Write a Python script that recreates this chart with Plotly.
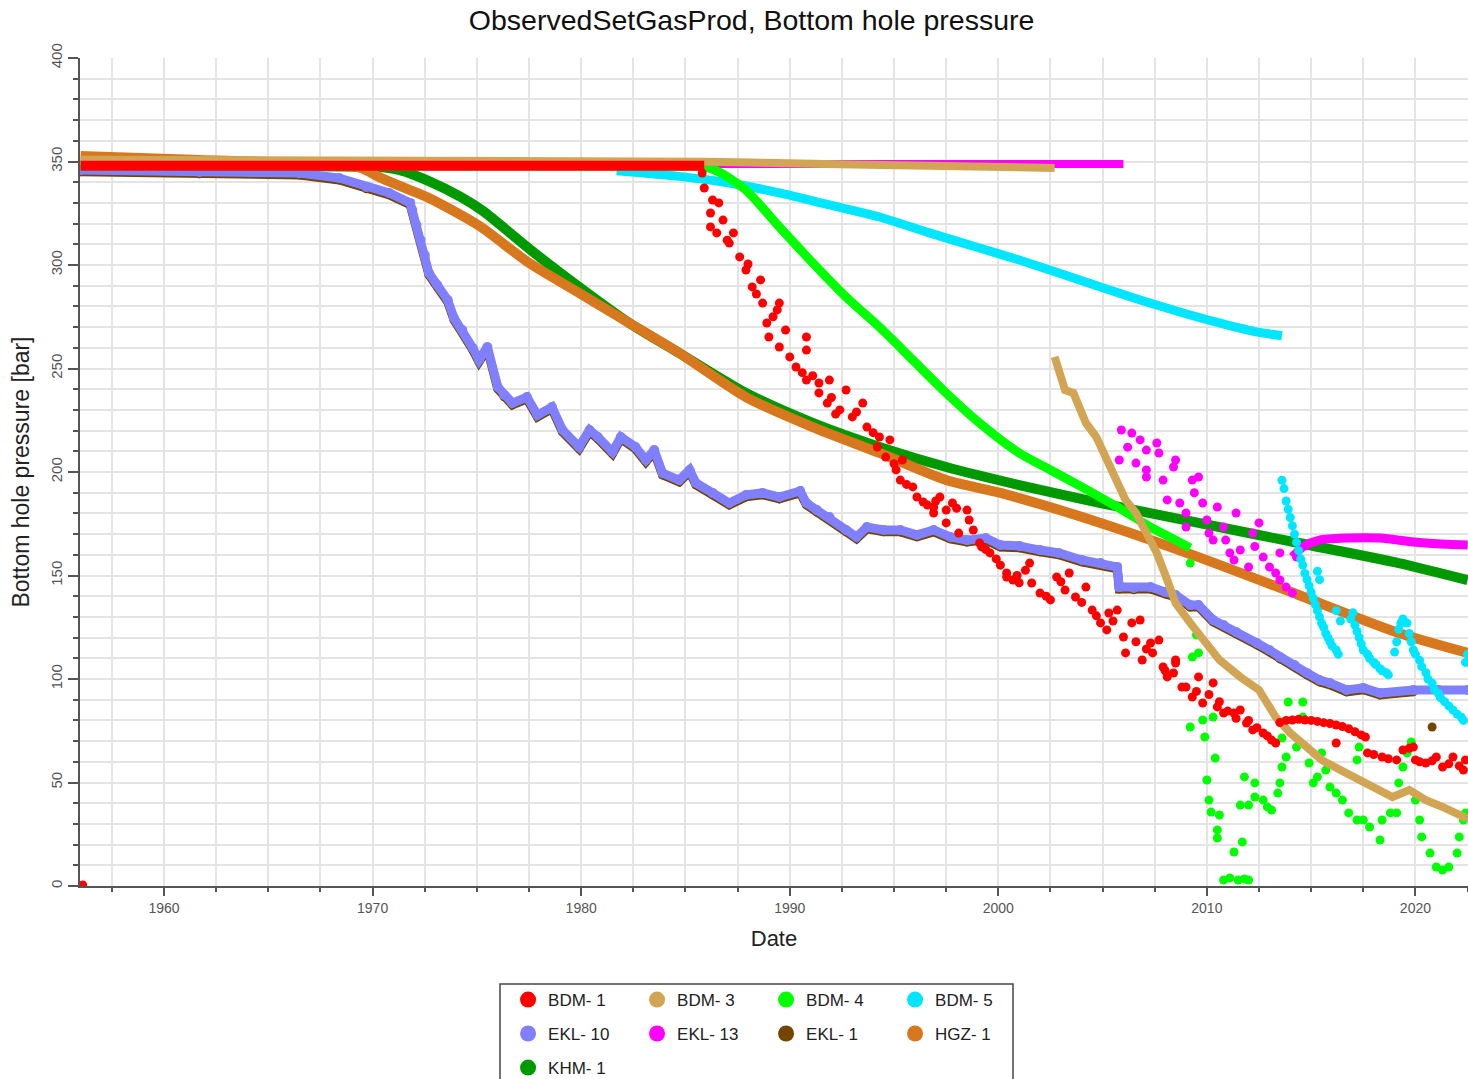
import plotly.graph_objects as go

FONT = "Liberation Sans, Arial, sans-serif"

TITLE = "ObservedSetGasProd, Bottom hole pressure"
X_TITLE = "Date"
Y_TITLE = "Bottom hole pressure [bar]"

X_TICKS = [1960, 1970, 1980, 1990, 2000, 2010, 2020]
X_TICK_TEXT = ["1960", "1970", "1980", "1990", "2000", "2010", "2020"]
Y_TICKS = [0, 50, 100, 150, 200, 250, 300, 350, 400]
Y_TICK_TEXT = ["0", "50", "100", "150", "200", "250", "300", "350", "400"]

NAMES = ["BDM- 1", "BDM- 3", "BDM- 4", "BDM- 5", "EKL- 10", "EKL- 13", "EKL- 1", "HGZ- 1", "KHM- 1"]
COLORS = ["#ff0000", "#d2a555", "#00ff00", "#00e6ff", "#8080ff", "#ff00ff", "#744500", "#d7781e", "#009900"]

# ---- BDM- 1 ----
BDM1_LINE_X = [1956.0, 1985.9]
BDM1_LINE_Y = [348.0, 348.0]
BDM1_PTS_X = [1956.1, 1985.8, 1985.9, 1986.2, 1986.2, 1986.3, 1986.5, 1986.6, 1986.8, 1987.1, 1987.3,
              1987.6, 1987.9, 1988.2, 1988.6, 1988.7, 1988.9, 1989.0, 1989.4, 1989.5, 1989.5, 1989.8,
              1990.0, 1990.3, 1990.8, 1990.8, 1990.8, 1991.4, 1991.4, 1991.8, 1991.9, 1992.4, 1992.7,
              1993.0, 1993.5, 1993.7, 1994.2, 1994.3, 1994.6, 1994.8, 1995.1, 1995.3, 1995.4, 1995.6,
              1995.9, 1996.1, 1996.4, 1996.9, 1996.9, 1997.2, 1997.5, 1997.5, 1997.8, 1998.0, 1998.1,
              1998.5, 1998.6, 1998.8, 1999.1, 1999.2, 1999.6, 2000.1, 2000.4, 2000.4, 2000.7, 2001.0,
              2001.5, 2001.6, 2002.0, 2002.5, 2002.8, 2003.2, 2003.4, 2003.7, 2004.2, 2004.5, 2004.9,
              2005.2, 2005.3, 2005.7, 2006.0, 2006.1, 2006.4, 2006.8, 2006.9, 2007.3, 2007.4, 2007.7,
              2007.9, 2008.1, 2008.4, 2008.5, 2008.5, 2008.8, 2009.0, 2009.3, 2009.6, 2009.8, 2010.3,
              2010.5, 2010.8, 2011.3, 2011.6, 2011.9, 2012.2, 2012.7, 2013.1, 2013.3,
              2013.5, 2013.8, 2014.1, 2014.4, 2014.7, 2015.0, 2015.3, 2015.6, 2015.9, 2016.2, 2016.2,
              2016.5, 2016.8, 2017.1, 2017.4, 2017.6, 2017.7, 2018.0, 2018.4, 2018.7, 2019.1, 2019.4,
              2019.7, 2019.9, 2020.0, 2020.2, 2020.5, 2020.8, 2021.0, 2021.3, 2021.6, 2021.8, 2022.1,
              2022.3, 2022.4,
              1987.0, 1988.0, 1988.4, 1989.2, 1990.6, 1991.1, 1992.0, 1992.2, 1993.2, 1994.0, 1995.0,
              1996.6, 1997.0, 1999.4, 1999.9, 2000.9, 2001.3, 2002.3, 2003.0, 2004.0, 2004.7, 2005.5,
              2006.6, 2007.1, 2008.0, 2009.5, 2010.1, 2010.6, 2011.0, 2011.4, 2012.0, 2012.4, 2012.9]
BDM1_PTS_Y = [0.5, 344.4, 337.2, 325.1, 318.4, 331.4, 315.5, 330.0, 321.7, 310.6, 315.5,
              303.9, 297.6, 289.4, 292.8, 281.6, 272.0, 265.2, 278.3, 281.6, 260.4, 268.6,
              255.6, 250.7, 265.2, 258.9, 244.4, 243.0, 238.2, 233.3, 244.4, 230.0, 239.6,
              226.6, 233.3, 221.7, 212.1, 216.9, 207.2, 215.5, 201.0, 196.1, 205.8, 194.0,
              192.8, 187.9, 185.5, 183.1, 180.2, 187.9, 181.6, 175.4, 185.0, 182.5, 170.5,
              181.6, 176.8, 172.0, 165.7, 163.8, 160.9, 155.0, 151.2, 149.3, 147.8, 146.5,
              156.0, 146.4, 141.5, 138.2, 149.3, 143.0, 151.2, 139.6, 144.4, 133.3, 127.1,
              123.7, 131.9, 133.3, 120.3, 112.6, 127.1, 128.5, 109.2, 117.4, 112.6, 118.8,
              105.8, 101.0, 102.9, 109.2, 107.7, 96.1, 96.1, 91.3, 101.0, 88.4, 98.1,
              86.5, 83.6, 83.6, 85.0, 78.7, 75.4, 73.9, 70.5, 69.1,
              79.0, 80.0, 80.2, 80.5, 80.2, 80.0, 79.5, 78.9, 78.5, 77.8, 69.1,
              77.0, 76.0, 74.5, 73.0, 72.0, 64.3, 63.5, 62.3, 61.5, 60.9, 65.7,
              66.5, 67.1, 60.9, 60.0, 59.4, 60.5, 62.3, 57.5, 59.0, 62.3, 58.0,
              56.0, 60.9,
              312.0, 300.5, 286.0, 275.0, 248.0, 246.5, 236.0, 228.0, 229.0, 219.0, 204.0,
              184.0, 186.0, 162.5, 158.0, 150.0, 152.5, 140.0, 147.0, 137.0, 130.5, 128.0,
              118.0, 114.5, 104.0, 94.0, 92.5, 89.0, 84.5, 81.0, 80.0, 76.5, 72.5]

# ---- BDM- 3 ----
BDM3_X = [1956.0, 1975.0, 1986.0, 1993.0, 2000.0, 2002.7, None,
          2002.7, 2002.9, 2003.2, 2003.6, 2003.9, 2004.2, 2004.7, 2005.2, 2005.7, 2006.1, 2006.6,
          2007.1, 2007.6, 2008.1, 2008.5, 2009.2, 2009.8, 2010.6, 2011.6, 2012.5, 2013.3, 2014.0,
          2014.8, 2015.5, 2016.4, 2017.2, 2018.1, 2018.9, 2019.7, 2020.5, 2021.3, 2022.2, 2022.5]
BDM3_Y = [350.8, 350.4, 349.9, 348.6, 347.2, 346.9, None,
          255.6, 247.8, 239.6, 238.2, 231.4, 223.7, 216.9, 205.8, 196.1, 186.5, 180.2,
          170.5, 160.9, 147.8, 136.7, 127.1, 118.8, 109.2, 101.0, 94.7, 81.6, 73.9,
          67.1, 60.9, 56.0, 51.7, 46.4, 43.0, 46.4, 41.5, 38.2, 33.3, 32.5]

# ---- BDM- 4 ----
BDM4_LINE_X = [1956.0, 1984.0, 1985.9, 1986.6, 1987.9, 1989.5, 1991.1, 1992.7, 1994.3, 1995.9, 1997.5,
               1999.1, 2001.0, 2002.5, 2004.0, 2005.7, 2007.3, 2008.5, 2009.2]
BDM4_LINE_Y = [347.8, 347.8, 347.4, 345.0, 336.2, 318.4, 301.0, 284.5, 270.0, 254.1, 238.2,
               223.7, 209.2, 201.0, 192.8, 183.1, 173.4, 167.1, 163.3]
BDM4_PTS_X = [2009.2, 2009.5, 2009.3, 2009.6, 2009.2, 2009.8, 2009.9, 2010.3, 2010.4, 2010.0,
              2010.1, 2010.2, 2010.6, 2010.5, 2010.5, 2011.3, 2011.7, 2010.8, 2011.1, 2011.5,
              2011.8, 2012.0, 2011.8, 2012.3, 2011.6, 2012.0, 2012.3, 2012.7, 2012.9, 2013.1,
              2013.4, 2013.5, 2013.6, 2013.8, 2013.6, 2013.9, 2014.6, 2014.6, 2014.3, 2014.9,
              2015.3, 2015.1, 2015.5, 2015.7, 2015.9, 2016.2, 2016.5, 2016.8, 2017.2, 2017.5,
              2017.8, 2018.3, 2018.4, 2018.8, 2019.1, 2017.3, 2017.2, 2019.2, 2019.4, 2019.6,
              2019.8, 2020.0, 2020.2, 2020.3, 2020.7, 2021.0, 2021.3, 2021.6, 2022.0, 2022.1,
              2022.3, 2022.4]
BDM4_PTS_Y = [156.0, 121.3, 110.6, 112.6, 76.8, 80.2, 72.0, 81.6, 61.8, 51.2,
              41.5, 35.7, 34.3, 27.1, 23.2, 16.4, 21.3, 2.9, 3.9, 2.9,
              3.4, 2.9, 52.7, 49.8, 39.1, 39.1, 43.0, 41.5, 38.2, 36.7,
              44.9, 49.8, 57.5, 62.3, 71.5, 88.9, 88.9, 81.6, 67.1, 59.4,
              52.7, 49.8, 64.3, 56.0, 47.8, 44.9, 41.5, 35.3, 31.9, 31.9,
              28.5, 22.2, 31.9, 35.3, 35.3, 67.1, 60.9, 49.8, 57.5, 64.3,
              69.6, 41.5, 31.9, 23.7, 15.9, 9.2, 7.7, 9.2, 15.9, 23.7,
              31.9, 35.3]

# ---- BDM- 5 ----
BDM5_LINE_X = [1981.7, 1984.7, 1987.1, 1989.5, 1991.9, 1994.3, 1996.7, 1999.1, 2001.0, 2002.9,
               2004.9, 2006.8, 2008.7, 2010.6, 2012.3, 2013.6]
BDM5_LINE_Y = [345.5, 342.8, 339.6, 334.8, 329.0, 323.2, 315.5, 308.2, 302.4, 296.1,
               289.4, 283.1, 277.3, 272.0, 267.8, 265.8]
BDM5_PTS_X = [2013.6, 2013.7, 2013.8, 2013.9, 2014.0, 2014.1, 2014.2, 2014.3, 2014.4, 2014.5,
              2014.6, 2014.7, 2014.8, 2014.9, 2015.0, 2015.1, 2015.2, 2015.3, 2015.4, 2015.5,
              2015.6, 2015.7, 2015.8, 2015.9, 2016.0, 2016.2, 2016.3, 2015.3, 2015.4, 2016.2,
              2016.4, 2016.9, 2017.0, 2017.1, 2017.2, 2017.3, 2017.4, 2017.5, 2017.7, 2017.8,
              2018.0, 2018.1, 2018.3, 2018.4, 2018.6, 2018.7, 2019.0, 2019.1, 2019.2, 2019.3,
              2019.4, 2019.6, 2019.7, 2019.8, 2019.9, 2020.0, 2020.2, 2020.3, 2020.5, 2020.6,
              2020.8, 2020.9, 2021.1, 2021.2, 2021.4, 2021.6, 2021.8, 2022.0, 2022.2, 2022.3,
              2022.4, 2022.5]
BDM5_PTS_Y = [196.0, 192.0, 186.0, 182.0, 178.0, 174.0, 170.0, 166.0, 162.0, 158.0,
              155.0, 151.0, 148.0, 145.0, 142.0, 139.0, 136.0, 133.0, 130.0, 127.0,
              125.0, 122.0, 120.0, 118.0, 116.0, 114.0, 112.0, 152.0, 148.0, 133.0,
              128.0, 129.0, 132.0, 126.0, 123.0, 120.0, 117.0, 114.0, 112.0, 110.0,
              108.0, 107.0, 105.0, 104.0, 103.0, 102.0, 113.0, 118.0, 124.0, 127.0,
              129.0, 127.0, 122.0, 118.0, 114.0, 112.0, 109.0, 106.0, 103.0, 100.0,
              98.0, 95.0, 93.0, 91.0, 89.0, 87.0, 85.0, 83.0, 81.5, 80.0,
              108.0, 112.0]

# ---- EKL- 10 ----
EKL10_X = [1956.0, 1961.7, 1966.5, 1968.4, 1969.7, 1970.8, 1971.8, 1971.9, 1972.1, 1972.3,
           1972.5, 1972.7, 1973.1, 1973.6, 1973.9, 1974.3, 1974.8, 1975.1, 1975.5, 1976.0,
           1976.3, 1976.7, 1977.4, 1977.9, 1978.6, 1979.1, 1979.9, 1980.4, 1980.8, 1981.5,
           1981.9, 1982.6, 1983.1, 1983.5, 1983.9, 1984.7, 1985.2, 1985.5, 1986.3, 1987.1,
           1987.9, 1988.7, 1989.5, 1990.5, 1990.8, 1991.3, 1991.9, 1992.7, 1993.2, 1993.7,
           1994.5, 1995.3, 1996.1, 1996.9, 1997.7, 1998.5, 1999.4, 2000.1, 2001.0, 2002.0,
           2002.9, 2004.0, 2004.9, 2005.7, 2005.8, 2006.5, 2007.3, 2008.0, 2008.5, 2009.2,
           2009.6, 2010.3, 2010.8, 2011.4, 2012.4, 2013.0, 2013.5, 2014.2, 2014.8, 2015.4,
           2015.9, 2016.7, 2017.5, 2018.3, 2019.9, 2021.1, 2022.5]
EKL10_Y = [345.9, 344.9, 344.4, 342.0, 337.7, 334.8, 330.0, 326.6, 319.3, 312.1,
           304.8, 296.1, 290.3, 283.1, 274.4, 268.6, 259.9, 254.1, 260.4, 241.1,
           237.2, 233.3, 236.2, 227.5, 231.4, 220.3, 212.1, 220.3, 216.9, 209.7,
           216.9, 212.1, 205.8, 210.6, 199.5, 196.1, 201.0, 194.7, 189.9, 185.0,
           188.9, 189.9, 187.9, 190.8, 185.0, 181.6, 178.3, 172.0, 168.6, 173.4,
           172.0, 172.0, 169.6, 172.0, 168.6, 167.1, 168.1, 164.7, 164.3, 162.3,
           160.9, 157.5, 156.0, 154.1, 144.4, 144.0, 144.4, 142.0, 140.6, 135.7,
           135.7, 128.5, 126.1, 122.7, 117.4, 114.0, 110.6, 106.8, 102.9, 99.5,
           98.1, 94.7, 95.7, 93.2, 94.7, 94.7, 94.7]

# ---- EKL- 13 ----
EKL13_TOP_X = [1986.0, 2006.0]
EKL13_TOP_Y = [348.8, 348.8]
EKL13_PTS_X = [2005.9, 2006.4, 2006.8, 2005.8, 2006.6, 2007.1, 2007.6, 2007.7, 2007.1, 2007.1,
               2007.9, 2008.1, 2008.5, 2008.4, 2008.7, 2009.0, 2009.0, 2009.3, 2009.6, 2009.8,
               2010.5, 2010.0, 2010.1, 2010.8, 2010.3, 2010.9, 2011.1, 2011.6, 2011.4, 2012.2,
               2012.5, 2011.3, 2012.0, 2012.7, 2013.0, 2013.3, 2013.5, 2013.8, 2014.1, 2013.5,
               2014.3, 2006.2, 2009.4, 2012.3]
EKL13_PTS_Y = [220.3, 218.8, 215.5, 205.8, 204.3, 210.6, 214.0, 209.2, 201.0, 197.6,
               196.1, 186.5, 205.8, 202.4, 185.0, 180.2, 173.4, 196.1, 197.6, 185.0,
               183.1, 176.8, 170.5, 173.4, 167.1, 167.1, 160.9, 162.3, 180.2, 170.5,
               175.4, 157.5, 154.1, 158.9, 154.1, 151.2, 147.8, 144.4, 141.5, 160.9,
               158.9, 212.0, 190.0, 164.0]
EKL13_LOW_X = [2014.1, 2014.6, 2015.4, 2016.7, 2018.3, 2019.9, 2021.0, 2022.5]
EKL13_LOW_Y = [158.9, 163.8, 167.1, 168.1, 168.1, 166.2, 165.3, 164.7]

# ---- EKL- 1 ----
EKL1_X = [1956.0, 1961.7, 1966.5, 1968.4, 1969.7, 1970.8, 1971.8, 1971.9, 1972.1, 1972.3,
          1972.5, 1972.7, 1973.1, 1973.6, 1973.9, 1974.3, 1974.8, 1975.1, 1975.5, 1976.0,
          1976.3, 1976.7, 1977.4, 1977.9, 1978.6, 1979.1, 1979.9, 1980.4, 1980.8, 1981.5,
          1981.9, 1982.6, 1983.1, 1983.5, 1983.9, 1984.7, 1985.2, 1985.5, 1986.3, 1987.1,
          1987.9, 1988.7, 1989.5, 1990.5, 1990.8, 1991.3, 1991.9, 1992.7, 1993.2, 1993.7,
          1994.5, 1995.3, 1996.1, 1996.9, 1997.7, 1998.5, 1999.4, 2000.1, 2001.0, 2002.0,
          2002.9, 2004.0, 2004.9, 2005.7, 2005.8, 2006.5, 2007.3, 2008.0, 2008.5, 2009.2,
          2009.6, 2010.3, 2010.8, 2011.4, 2012.4, 2013.0, 2013.5, 2014.2, 2014.8, 2015.4,
          2015.9, 2016.7, 2017.5, 2018.3, 2019.9, None, 2020.8]
EKL1_Y = [345.0, 344.0, 343.5, 341.1, 336.8, 333.9, 329.1, 325.7, 318.4, 311.2,
          303.9, 295.2, 289.4, 282.2, 273.5, 267.7, 259.0, 253.2, 259.5, 240.2,
          236.3, 232.4, 235.3, 226.6, 230.5, 219.4, 211.2, 219.4, 216.0, 208.8,
          216.0, 211.2, 204.9, 209.7, 198.6, 195.2, 200.1, 193.8, 189.0, 184.1,
          188.0, 189.0, 187.0, 189.9, 184.1, 180.7, 177.4, 171.1, 167.7, 172.5,
          171.1, 171.1, 168.7, 171.1, 167.7, 166.2, 167.2, 163.8, 163.4, 161.4,
          160.0, 156.6, 155.1, 153.2, 143.5, 143.1, 143.5, 141.1, 139.7, 134.8,
          134.8, 127.6, 125.2, 121.8, 116.5, 113.1, 109.7, 105.9, 102.0, 98.6,
          97.2, 93.8, 94.8, 92.3, 93.8, None, 76.8]

# ---- HGZ- 1 ----
HGZ1_X = [1956.0, 1961.7, 1966.5, 1969.4, 1970.3, 1971.3, 1972.7, 1975.1, 1977.5, 1979.9,
          1982.3, 1984.7, 1987.9, 1991.1, 1994.3, 1997.5, 2000.1, 2004.9, 2009.6, 2014.4,
          2019.2, 2022.5]
HGZ1_Y = [352.7, 350.7, 349.3, 347.0, 342.5, 338.2, 332.4, 319.0, 301.0, 286.5,
          272.0, 257.5, 236.2, 221.7, 209.2, 196.1, 189.9, 175.4, 158.9, 140.6,
          122.2, 112.6]

# ---- KHM- 1 ----
KHM1_X = [1956.0, 1962.0, 1966.5, 1970.3, 1971.3, 1972.7, 1974.2, 1975.3, 1977.7, 1980.1, 1982.3,
          1984.7, 1987.9, 1991.1, 1994.3, 1997.5, 2001.0, 2004.9, 2009.6, 2014.4, 2019.2,
          2022.5]
KHM1_Y = [348.0, 348.0, 347.8, 347.3, 345.8, 340.5, 333.0, 326.0, 306.3, 287.9, 272.0,
          257.5, 238.2, 223.7, 212.1, 202.4, 193.7, 185.0, 175.4, 165.7, 156.0,
          147.8]

fig = go.Figure()


def add_line(x, y, color, width=10, markers=False, msize=10, smooth=False):
    fig.add_trace(go.Scatter(
        x=x, y=y, mode="lines+markers" if markers else "lines",
        line=dict(color=color, width=width, shape="spline" if smooth else "linear",
                  smoothing=0.7 if smooth else None),
        marker=dict(color=color, size=msize),
        connectgaps=False, showlegend=False, hoverinfo="skip"))


def add_pts(x, y, color, size=9):
    fig.add_trace(go.Scatter(
        x=x, y=y, mode="markers", marker=dict(color=color, size=size, line=dict(width=0)),
        showlegend=False, hoverinfo="skip"))


C = dict(zip(NAMES, COLORS))

# draw bottom to top
add_line(KHM1_X, KHM1_Y, C["KHM- 1"], width=10, smooth=True)
add_line(HGZ1_X, HGZ1_Y, C["HGZ- 1"], width=10, smooth=True)
add_line(EKL1_X, EKL1_Y, C["EKL- 1"], width=9, markers=True, msize=9)
add_line(EKL13_TOP_X, EKL13_TOP_Y, C["EKL- 13"], width=8)
add_pts(EKL13_PTS_X, EKL13_PTS_Y, C["EKL- 13"])
add_line(EKL13_LOW_X, EKL13_LOW_Y, C["EKL- 13"], width=9, smooth=True)
add_line(EKL10_X, EKL10_Y, C["EKL- 10"], width=9, markers=True, msize=10)
add_line(BDM5_LINE_X, BDM5_LINE_Y, C["BDM- 5"], width=9, smooth=True)
add_pts(BDM5_PTS_X, BDM5_PTS_Y, C["BDM- 5"])
add_line(BDM4_LINE_X, BDM4_LINE_Y, C["BDM- 4"], width=9, smooth=True)
add_pts(BDM4_PTS_X, BDM4_PTS_Y, C["BDM- 4"])
add_line(BDM3_X, BDM3_Y, C["BDM- 3"], width=8)
add_line(BDM1_LINE_X, BDM1_LINE_Y, C["BDM- 1"], width=10)
add_pts(BDM1_PTS_X, BDM1_PTS_Y, C["BDM- 1"])

# legend entries (three rows)
LEGEND_ROWS = [["BDM- 1", "BDM- 3", "BDM- 4", "BDM- 5"],
               ["EKL- 10", "EKL- 13", "EKL- 1", "HGZ- 1"],
               ["KHM- 1"]]
LEG_IDS = ["legend", "legend2", "legend3"]
for row, lid in zip(LEGEND_ROWS, LEG_IDS):
    for nm in row:
        fig.add_trace(go.Scatter(x=[None], y=[None], mode="markers", name=nm,
                                 marker=dict(color=C[nm], size=20), showlegend=True, legend=lid))

GRID = "#e4e4e4"
AX = "#555555"

leg_common = dict(orientation="h", xanchor="left", yanchor="middle", x=0.3084,
                  bgcolor="rgba(0,0,0,0)", borderwidth=0, entrywidth=84,
                  font=dict(family=FONT, size=17, color="#222"), itemclick=False)

fig.update_layout(
    width=1468, height=1079,
    margin=dict(l=80, r=0, t=58, b=193, autoexpand=False),
    paper_bgcolor="white", plot_bgcolor="white",
    font=dict(family=FONT, color="#333"),
    title=dict(text=TITLE, x=0.512, xanchor="center", y=1 - 20 / 1079, yanchor="middle",
               font=dict(family=FONT, size=28.5, color="#111")),
    xaxis=dict(range=[1955.97, 2022.52], tickmode="array", tickvals=X_TICKS, ticktext=X_TICK_TEXT,
               ticks="outside", ticklen=8, tickwidth=2, tickcolor=AX,
               showline=True, linecolor=AX, linewidth=2, zeroline=False,
               showgrid=True, gridcolor=GRID, gridwidth=2,
               minor=dict(dtick=2.5, tick0=1955, ticks="outside", ticklen=4, tickwidth=2, tickcolor=AX,
                          showgrid=True, gridcolor=GRID, gridwidth=2),
               tickfont=dict(family=FONT, size=14, color=AX),
               title=dict(text=X_TITLE, font=dict(family=FONT, size=22, color="#222"), standoff=16)),
    yaxis=dict(range=[0, 400], tickmode="array", tickvals=Y_TICKS, ticktext=Y_TICK_TEXT, tickangle=-90,
               ticks="outside", ticklen=10, tickwidth=2, tickcolor=AX,
               showline=True, linecolor=AX, linewidth=2, zeroline=False,
               showgrid=True, gridcolor=GRID, gridwidth=2,
               minor=dict(dtick=10, tick0=0, ticks="outside", ticklen=5, tickwidth=2, tickcolor=AX,
                          showgrid=True, gridcolor=GRID, gridwidth=2),
               tickfont=dict(family=FONT, size=15, color=AX),
               title=dict(text=Y_TITLE, font=dict(family=FONT, size=23, color="#222"), standoff=12)),
    legend=dict(**leg_common, y=-0.1377),
    legend2=dict(**leg_common, y=-0.1787),
    legend3=dict(**leg_common, y=-0.2198),
    shapes=[dict(type="rect", xref="paper", yref="paper", x0=0.3026, x1=0.6722, y0=-0.2464, y1=-0.1184,
                 line=dict(color="#444", width=1.5), fillcolor="rgba(0,0,0,0)", layer="below")],
    showlegend=True,
)

fig.write_html("out.html")
